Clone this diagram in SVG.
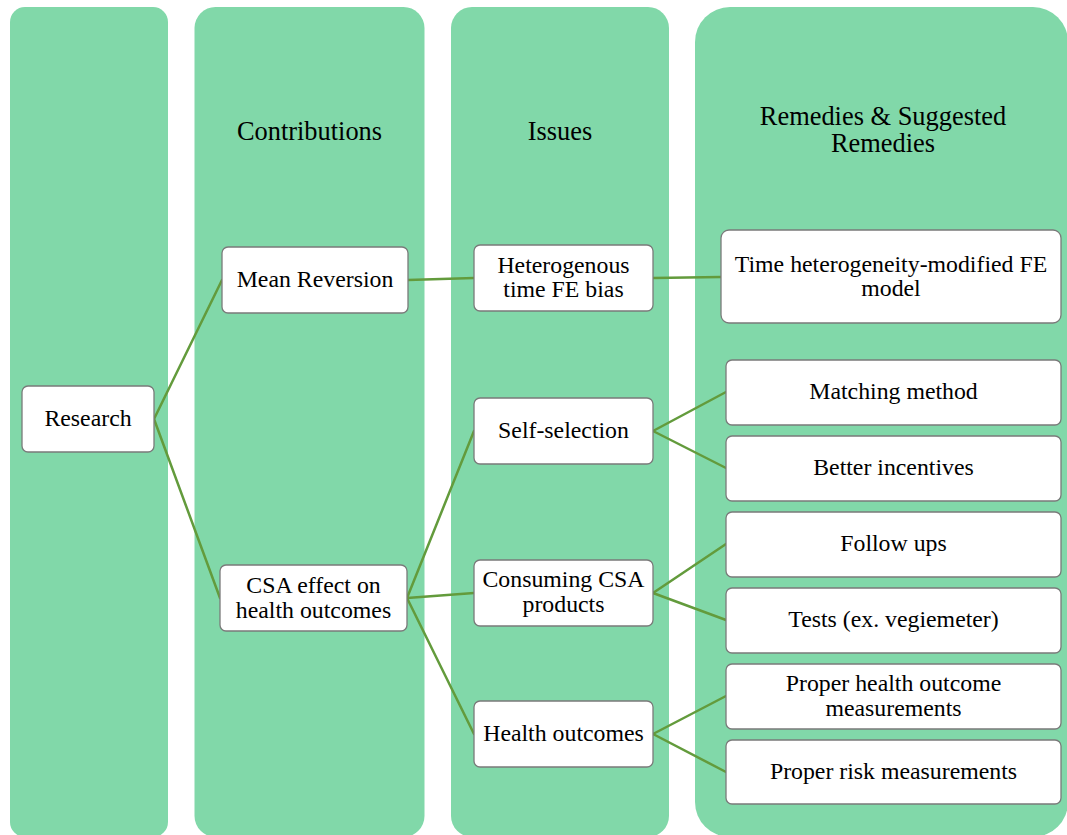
<svg xmlns="http://www.w3.org/2000/svg" width="1067" height="835" viewBox="0 0 1067 835">
  <style>
    .lane { fill: #81d8a9; }
    .box { fill: #ffffff; stroke: #7a7a7a; stroke-width: 1.3; }
    .hdr { font-family: "Liberation Serif", "Times New Roman", serif; font-size: 26.4px; fill: #000; text-anchor: middle; }
    .lbl { font-family: "Liberation Serif", "Times New Roman", serif; font-size: 23.8px; fill: #000; text-anchor: middle; }
    .link { stroke: #639b3c; stroke-width: 2.5; fill: none; stroke-linecap: round; }
  </style>

  <!-- column lanes -->
  <g id="lanes">
    <rect class="lane" x="10" y="7" width="158" height="830" rx="15"/>
    <rect class="lane" x="194.5" y="7" width="230" height="830" rx="21"/>
    <rect class="lane" x="451" y="7" width="218" height="830" rx="21"/>
    <rect class="lane" x="695" y="7" width="373" height="830" rx="35"/>
  </g>

  <!-- lane headers -->
  <g id="headers">
    <text class="hdr" x="309.5" y="140">Contributions</text>
    <text class="hdr" x="560" y="140">Issues</text>
    <text class="hdr" x="883" y="125">Remedies &amp; Suggested</text>
    <text class="hdr" x="883" y="152">Remedies</text>
  </g>

  <!-- connectors -->
  <g id="connectors">
    <line class="link" x1="154" y1="419" x2="222" y2="280"/>
    <line class="link" x1="154" y1="419" x2="220" y2="598"/>
    <line class="link" x1="408" y1="280" x2="474" y2="278"/>
    <line class="link" x1="653" y1="278" x2="721" y2="277"/>
    <line class="link" x1="407" y1="598" x2="474" y2="431"/>
    <line class="link" x1="407" y1="598" x2="474" y2="593"/>
    <line class="link" x1="407" y1="598" x2="474" y2="734"/>
    <line class="link" x1="653" y1="431" x2="726" y2="392"/>
    <line class="link" x1="653" y1="431" x2="726" y2="468"/>
    <line class="link" x1="653" y1="593" x2="726" y2="544"/>
    <line class="link" x1="653" y1="593" x2="726" y2="620"/>
    <line class="link" x1="653" y1="734" x2="726" y2="696"/>
    <line class="link" x1="653" y1="734" x2="726" y2="772"/>
  </g>

  <g id="research">
    <rect class="box" x="22" y="386" width="132" height="66" rx="6"/>
    <text class="lbl" x="88" y="426">Research</text>
  </g>

  <g id="mean-reversion">
    <rect class="box" x="222" y="247" width="186" height="66" rx="6"/>
    <text class="lbl" x="315" y="287">Mean Reversion</text>
  </g>

  <g id="csa-effect">
    <rect class="box" x="220" y="565" width="187" height="66" rx="6"/>
    <text class="lbl" x="313.5" y="593">CSA effect on</text>
    <text class="lbl" x="313.5" y="617.5">health outcomes</text>
  </g>

  <g id="heterogenous-bias">
    <rect class="box" x="474" y="245" width="179" height="66" rx="6"/>
    <text class="lbl" x="563.5" y="273">Heterogenous</text>
    <text class="lbl" x="563.5" y="297">time FE bias</text>
  </g>

  <g id="self-selection">
    <rect class="box" x="474" y="398" width="179" height="66" rx="6"/>
    <text class="lbl" x="563.5" y="438">Self-selection</text>
  </g>

  <g id="consuming-csa">
    <rect class="box" x="474" y="560" width="179" height="66" rx="6"/>
    <text class="lbl" x="563.5" y="587">Consuming CSA</text>
    <text class="lbl" x="563.5" y="611.5">products</text>
  </g>

  <g id="health-outcomes">
    <rect class="box" x="474" y="701" width="179" height="66" rx="6"/>
    <text class="lbl" x="563.5" y="741">Health outcomes</text>
  </g>

  <g id="time-fe-model">
    <rect class="box" x="721" y="230" width="340" height="93" rx="8"/>
    <text class="lbl" x="891" y="272">Time heterogeneity-modified FE</text>
    <text class="lbl" x="891" y="296">model</text>
  </g>

  <g id="matching-method">
    <rect class="box" x="726" y="360" width="335" height="65" rx="6"/>
    <text class="lbl" x="893.5" y="399">Matching method</text>
  </g>

  <g id="better-incentives">
    <rect class="box" x="726" y="436" width="335" height="65" rx="6"/>
    <text class="lbl" x="893.5" y="475">Better incentives</text>
  </g>

  <g id="follow-ups">
    <rect class="box" x="726" y="512" width="335" height="65" rx="6"/>
    <text class="lbl" x="893.5" y="551">Follow ups</text>
  </g>

  <g id="tests">
    <rect class="box" x="726" y="588" width="335" height="65" rx="6"/>
    <text class="lbl" x="893.5" y="627">Tests (ex. vegiemeter)</text>
  </g>

  <g id="health-measurements">
    <rect class="box" x="726" y="664" width="335" height="65" rx="6"/>
    <text class="lbl" x="893.5" y="691">Proper health outcome</text>
    <text class="lbl" x="893.5" y="715.5">measurements</text>
  </g>

  <g id="risk-measurements">
    <rect class="box" x="726" y="740" width="335" height="64" rx="6"/>
    <text class="lbl" x="893.5" y="779">Proper risk measurements</text>
  </g>
</svg>
